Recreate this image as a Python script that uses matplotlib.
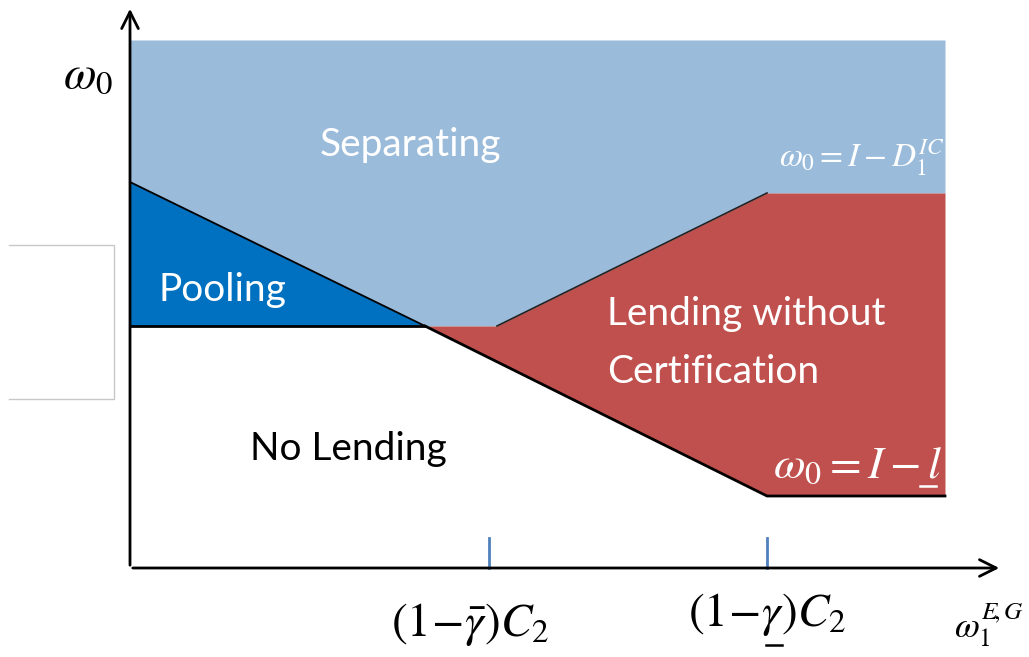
import matplotlib
matplotlib.use("Agg")
import matplotlib.pyplot as plt
import numpy as np

plt.rcParams['mathtext.fontset'] = 'stix'

# boundary knots (x in chart units, y in chart units; origin at axes crossing)
x_knots = [0, 295, 367, 637, 815]
upper_boundary = [386, 242, 242, 375, 375]      # separating region lower edge
pool_x = [0, 295]
pool_top = [386, 242]
pool_base = [242, 242]
lending_x = [295, 367, 637, 815]
lending_bottom = [242, 206, 72, 72]
top_level = 528
tick_positions = [359, 637]
tick_labels = [r"$\left(1\!-\!\bar{\gamma}\right)C_2$", r"$\left(1\!-\!\gamma\right)C_2$"]

c_sep = "#9BBBDB"
c_pool = "#0070C0"
c_lend = "#C0504D"
label_font = ["Lato", "DejaVu Sans"]

fig = plt.figure(figsize=(10.29, 6.57), dpi=100)
ax = fig.add_axes([0, 0, 1, 1])
ax.set_xlim(-130, 899)
ax.set_ylim(-89, 568)
ax.axis("off")

# separating region
ax.fill_between(x_knots, upper_boundary, top_level, color=c_sep, lw=0)
# pooling region
ax.fill_between(pool_x, pool_base, pool_top, color=c_pool, lw=0)
# lending without certification
ax.fill_between(lending_x, lending_bottom, upper_boundary[1:], color=c_lend, lw=0)

# boundary lines
ax.plot(pool_x, pool_top, color="black", lw=1.3)
ax.plot(pool_x, pool_base, color="black", lw=2)
ax.plot([295, 637, 815], [242, 72, 72], color="black", lw=2)
ax.plot([367, 637], [242, 375], color="#222222", lw=1.2)

# axes arrows
ax.annotate("", xy=(0, 562), xytext=(0, 0),
            arrowprops=dict(arrowstyle="->", lw=2, color="black", mutation_scale=30))
ax.annotate("", xy=(872, 0), xytext=(0, 0),
            arrowprops=dict(arrowstyle="->", lw=2, color="black", mutation_scale=30))

# ticks
for tp in tick_positions:
    ax.plot([tp, tp], [0, 30], color="#4F81BD", lw=2)

# left gray box (three sides)
ax.plot([-121, -16, -16, -121], [323, 323, 169, 169], color="#C8C8C8", lw=1)

# region labels
ax.text(280, 423, "Separating", color="white", fontsize=28, ha="center", va="center", family=label_font)
ax.text(92, 278, "Pooling", color="white", fontsize=28, ha="center", va="center", family=label_font)
ax.text(477, 254, "Lending without", color="white", fontsize=28, ha="left", va="center", family=label_font)
ax.text(477, 196, "Certification", color="white", fontsize=28, ha="left", va="center", family=label_font)
ax.text(218, 119, "No Lending", color="black", fontsize=28, ha="center", va="center", family=label_font)

# math labels
ax.text(-42, 493, r"$\omega_0$", fontsize=34, ha="center", va="center")
ax.text(732, 410, r"$\omega_0 = I - D_1^{IC}$", color="white", fontsize=24, ha="center", va="center")
ax.text(727, 103, r"$\omega_0 = I - l$", color="white", fontsize=33, ha="center", va="center")
ax.plot([790, 806], [82, 82], color="white", lw=1.8)
ax.text(340, -57, tick_labels[0], fontsize=34, ha="center", va="center")
ax.text(637, -47, tick_labels[1], fontsize=34, ha="center", va="center")
ax.plot([636, 652], [-77, -77], color="black", lw=1.8)
ax.text(894, -57, r"$\omega_1^{E\!,G}$", fontsize=26, ha="right", va="center")

fig.savefig("out.png", dpi=100)
